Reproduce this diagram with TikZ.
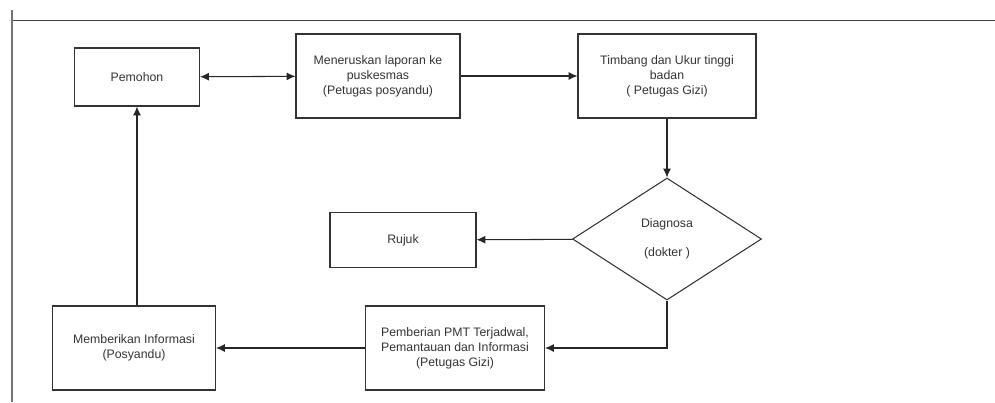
\documentclass[tikz,border=0pt]{standalone}
\usepackage{fontspec}
\setmainfont{Liberation Sans}
\usetikzlibrary{shapes.geometric,arrows.meta}

\tikzset{
    box/.style={draw=black!80, line width=0.6pt, align=center, text=black!80,
        font=\fontsize{7}{8.5}\selectfont, inner sep=0pt},
    dec/.style={draw=black!80, line width=0.6pt, diamond, align=center, text=black!80,
        font=\fontsize{7}{8.5}\selectfont, inner sep=0pt, aspect=1.55},
    flow/.style={->, line width=0.6pt, black!85}
}

\begin{document}
\begin{tikzpicture}[>={Latex[length=5pt,width=4.5pt]}]

\useasboundingbox (0,0) rectangle (19.9,8.04);

% frame
\draw[black!75] (0.24,7.64) -- (19.9,7.64);
\draw[black!55, thick] (0.24,0) -- (0.24,7.84);

    \node[box, minimum width=2.5cm, minimum height=1.16cm] (pem) at (2.74,6.5) {Pemohon};
    \node[box, minimum width=3.28cm, minimum height=1.68cm] (lapor) at (7.56,6.52)
        {Meneruskan laporan ke\\puskesmas\\(Petugas posyandu)};
    \node[box, minimum width=3.56cm, minimum height=1.68cm] (ukur) at (13.34,6.52)
        {Timbang dan Ukur tinggi\\badan\\( Petugas Gizi)};
    \node[dec, minimum width=3.78cm, minimum height=2.44cm] (diag) at (13.34,3.26)
        {Diagnosa\\[8pt](dokter )};
    \node[box, minimum width=2.92cm, minimum height=1.1cm] (rujuk) at (8.06,3.24) {Rujuk};
    \node[box, minimum width=3.58cm, minimum height=1.68cm] (pmt) at (9.1,1.08)
        {Pemberian PMT Terjadwal,\\Pemantauan dan Informasi\\(Petugas Gizi)};
    \node[box, minimum width=3.26cm, minimum height=1.68cm] (info) at (2.68,1.08)
        {Memberikan Informasi\\(Posyandu)};

    \draw[flow, <->] (pem) -- (lapor);
    \draw[flow] (lapor) -- (ukur);
    \draw[flow] (ukur) -- (diag);
    \draw[flow] (diag) -- (rujuk);
    \draw[flow] (diag.south) |- (pmt.east);
    \draw[flow] (pmt) -- (info);
    \draw[flow] (info.north -| pem.south) -- (pem.south);

\end{tikzpicture}
\end{document}
